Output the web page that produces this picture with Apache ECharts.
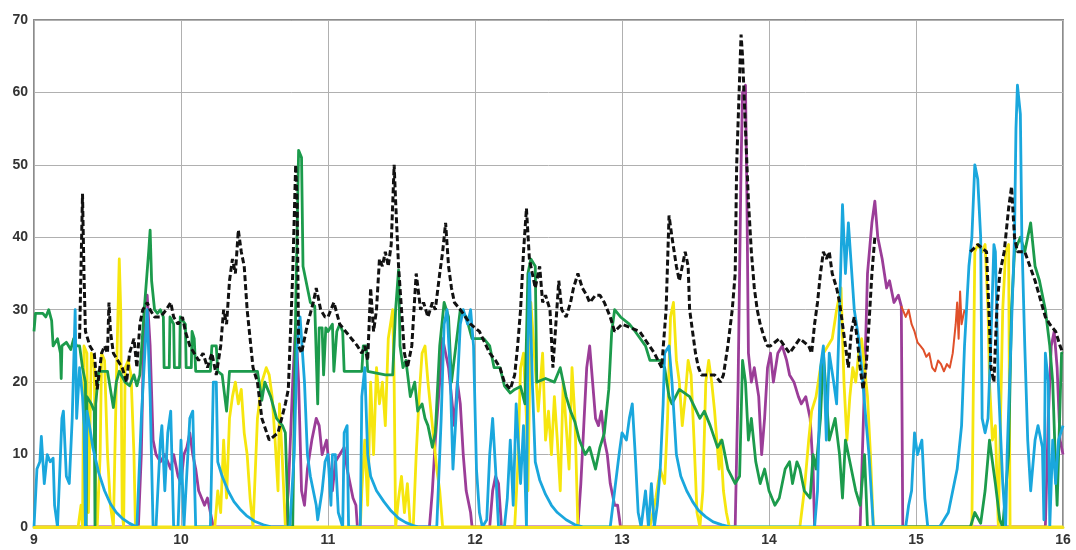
<!DOCTYPE html>
<html>
<head>
<meta charset="utf-8">
<script src="https://cdn.jsdelivr.net/npm/echarts@6/dist/echarts.min.js"></script>
<style>
  html, body { margin: 0; padding: 0; background: #fff; }
  #chart { width: 1076px; height: 550px; }
</style>
</head>
<body>
<div id="chart"></div>
<script>
// x = hour of day, y = value
const xTicks = [9, 10, 11, 12, 13, 14, 15, 16]
const yTicks = [0, 10, 20, 30, 40, 50, 60, 70]

const greenData = [
  [9.00, 27], [9.01, 29.5], [9.06, 29.5], [9.08, 29], [9.10, 30], [9.12, 28.5], [9.13, 25], [9.16, 26], [9.18, 24], [9.185, 20.5],
  [9.19, 25], [9.22, 25.5], [9.25, 24.5], [9.27, 26], [9.29, 25], [9.31, 25], [9.33, 22], [9.35, 20], [9.355, 0], [9.36, 18],
  [9.39, 17], [9.41, 16], [9.415, 0], [9.42, 17], [9.44, 21.5], [9.50, 21.5], [9.52, 19], [9.54, 16.5], [9.56, 20], [9.58, 21.5],
  [9.62, 20], [9.65, 19.5], [9.68, 21], [9.70, 19.5], [9.72, 21], [9.75, 30], [9.78, 38], [9.79, 41], [9.80, 34], [9.82, 30],
  [9.84, 29.5], [9.86, 30], [9.88, 29], [9.885, 22], [9.92, 22], [9.925, 29], [9.95, 28], [9.955, 22], [9.99, 22], [9.995, 29],
  [10.03, 28], [10.035, 22], [10.07, 22], [10.075, 27], [10.09, 26], [10.10, 21.5], [10.20, 21.5], [10.21, 25], [10.24, 25], [10.25, 21.5],
  [10.28, 21], [10.31, 16], [10.33, 21.5], [10.52, 21.5], [10.55, 17.5], [10.57, 20], [10.61, 18], [10.65, 15], [10.69, 14], [10.71, 13],
  [10.73, 0], [10.76, 0], [10.78, 30], [10.80, 52], [10.82, 51], [10.83, 36], [10.85, 34], [10.88, 31], [10.91, 30.5], [10.93, 17],
  [10.94, 27.5], [10.96, 27.5], [10.97, 21], [10.985, 27.5], [11.00, 27], [11.03, 28], [11.04, 21.5], [11.06, 27], [11.08, 28], [11.10, 27],
  [11.11, 21.5], [11.23, 21.5], [11.24, 25],
  [11.26, 25], [11.27, 21.5], [11.39, 21], [11.44, 21], [11.46, 30], [11.48, 35.5], [11.49, 25], [11.51, 22], [11.53, 23], [11.56, 18],
  [11.59, 20], [11.61, 16], [11.64, 17], [11.66, 15], [11.68, 14], [11.71, 11], [11.73, 13], [11.76, 25], [11.79, 31], [11.82, 29],
  [11.84, 20], [11.87, 25], [11.90, 30], [11.94, 29], [11.98, 26], [12.06, 26], [12.10, 25], [12.13, 22], [12.17, 22], [12.20, 19.5],
  [12.24, 18.5], [12.27, 19], [12.31, 19.4], [12.34, 17], [12.36, 35], [12.38, 37], [12.41, 36], [12.42, 20], [12.48, 20.5], [12.54, 20],
  [12.58, 22], [12.62, 18], [12.65, 16], [12.68, 14.5], [12.71, 12], [12.75, 10], [12.78, 11], [12.82, 8], [12.85, 11], [12.88, 13],
  [12.91, 19], [12.93, 27], [12.95, 30], [12.99, 29], [13.05, 28], [13.09, 27], [13.16, 25], [13.19, 23], [13.26, 23], [13.29, 22],
  [13.32, 18], [13.34, 17], [13.39, 19], [13.46, 18], [13.53, 15], [13.56, 16], [13.60, 14], [13.65, 11], [13.68, 12], [13.72, 8],
  [13.77, 6], [13.80, 7], [13.82, 23], [13.84, 20], [13.86, 12], [13.88, 15], [13.91, 9], [13.94, 6], [13.97, 8], [14.00, 5],
  [14.04, 3], [14.07, 4], [14.11, 8], [14.14, 9], [14.16, 6], [14.19, 9], [14.21, 8], [14.24, 5], [14.28, 4], [14.30, 10],
  [14.32, 8], [14.35, 15], [14.37, 24], [14.39, 18], [14.41, 12], [14.45, 15], [14.48, 10], [14.50, 4], [14.52, 12], [14.55, 9],
  [14.59, 5], [14.62, 3], [14.65, 10], [14.67, 0], [15.37, 0], [15.40, 2], [15.44, 0.5], [15.47, 5], [15.50, 12], [15.54, 6],
  [15.57, 1], [15.59, 0], [15.63, 10], [15.65, 30], [15.67, 38], [15.71, 40], [15.74, 38], [15.78, 42], [15.81, 36], [15.84, 34],
  [15.88, 30], [15.91, 25], [15.93, 20], [15.95, 8], [15.96, 3], [15.97, 10], [15.99, 24], [16.00, 24]
]

const cyanData = [
  [9.00, 0], [9.02, 8], [9.04, 9], [9.05, 12.5], [9.07, 6], [9.09, 10], [9.11, 9], [9.13, 9.5], [9.14, 3], [9.16, 0],
  [9.19, 15], [9.20, 16], [9.22, 7], [9.24, 6], [9.26, 15], [9.28, 30], [9.29, 15], [9.31, 22], [9.33, 18], [9.34, 14],
  [9.35, 0], [9.36, 16], [9.37, 15], [9.40, 11], [9.44, 7.5], [9.48, 5], [9.52, 3.2], [9.56, 2], [9.60, 1.2], [9.65, 0.5],
  [9.70, 0], [9.73, 15], [9.77, 30], [9.79, 18], [9.81, 0], [9.83, 0], [9.86, 12], [9.87, 14], [9.89, 5], [9.91, 13],
  [9.93, 16], [9.95, 0], [9.98, 0], [10.00, 12], [10.02, 0], [10.06, 15], [10.08, 16], [10.10, 0], [10.20, 0], [10.22, 20],
  [10.24, 20], [10.25, 9], [10.28, 7], [10.32, 5], [10.36, 3.5], [10.40, 2.5], [10.45, 1.5], [10.50, 0.8], [10.56, 0.3], [10.62, 0],
  [10.74, 0], [10.77, 10], [10.79, 25], [10.81, 29], [10.84, 20], [10.86, 10], [10.88, 7], [10.90, 5], [10.92, 3], [10.93, 1],
  [10.96, 5], [10.98, 9], [11.00, 10], [11.02, 3], [11.03, 10], [11.05, 10], [11.07, 2], [11.10, 0], [11.11, 13], [11.13, 14],
  [11.14, 0], [11.22, 0], [11.23, 18], [11.25, 22], [11.27, 10], [11.29, 7], [11.33, 5], [11.38, 3.5], [11.43, 2.2], [11.48, 1.2],
  [11.53, 0.6], [11.58, 0.2], [11.62, 0], [11.74, 0], [11.77, 15], [11.79, 28], [11.81, 30], [11.83, 22], [11.85, 8], [11.87, 15],
  [11.90, 28], [11.92, 30], [11.95, 28], [11.97, 30], [11.99, 25], [12.01, 8], [12.03, 2], [12.05, 0], [12.08, 1], [12.10, 10],
  [12.12, 15], [12.14, 8], [12.16, 0], [12.20, 0], [12.22, 4], [12.24, 12], [12.26, 3], [12.28, 17], [12.31, 6], [12.33, 14],
  [12.35, 0], [12.36, 25], [12.37, 35], [12.39, 20], [12.41, 9], [12.44, 6.5], [12.48, 4.5], [12.52, 3], [12.56, 2], [12.62, 1],
  [12.68, 0.3], [12.74, 0], [12.92, 0], [12.95, 5], [12.98, 10], [13.00, 13], [13.03, 12], [13.05, 15], [13.07, 17], [13.09, 10],
  [13.11, 2], [13.13, 0], [13.16, 5], [13.18, 0], [13.20, 6], [13.22, 0], [13.24, 3], [13.26, 8], [13.28, 17], [13.29, 24],
  [13.32, 25], [13.34, 20], [13.37, 10], [13.40, 7], [13.44, 5], [13.48, 3.5], [13.52, 2.3], [13.57, 1.4], [13.62, 0.7], [13.68, 0.3],
  [13.74, 0], [14.31, 0], [14.33, 5], [14.35, 22], [14.37, 25], [14.39, 12], [14.41, 24], [14.44, 20], [14.46, 17], [14.48, 30],
  [14.50, 44.5], [14.52, 35], [14.54, 42], [14.56, 36], [14.58, 30], [14.61, 26], [14.63, 22], [14.65, 17], [14.68, 10], [14.71, 0],
  [14.93, 0], [14.95, 3], [14.97, 5], [14.99, 13], [15.01, 10], [15.04, 12], [15.06, 4], [15.08, 0], [15.16, 0], [15.22, 2],
  [15.28, 8], [15.31, 14], [15.33, 25], [15.36, 36], [15.38, 40], [15.40, 50], [15.42, 48], [15.44, 40], [15.45, 15], [15.47, 13],
  [15.49, 15], [15.51, 26], [15.53, 39], [15.54, 38], [15.56, 20], [15.59, 6], [15.61, 0], [15.62, 10], [15.65, 28], [15.67, 40],
  [15.68, 55], [15.69, 61], [15.71, 57], [15.72, 40], [15.74, 25], [15.76, 12], [15.78, 5], [15.81, 12], [15.83, 14], [15.86, 11],
  [15.87, 1], [15.88, 24], [15.90, 20], [15.91, 0], [15.93, 12], [15.95, 6], [15.97, 12], [16.00, 14]
]

const yellowData = [
  [9.00, 0], [9.30, 0], [9.32, 3], [9.33, 0], [9.34, 25], [9.36, 24], [9.37, 2], [9.39, 24], [9.41, 22], [9.42, 5],
  [9.43, 0], [9.45, 10], [9.46, 24], [9.48, 23], [9.50, 10], [9.52, 3], [9.54, 0], [9.56, 20], [9.58, 37], [9.59, 30],
  [9.60, 2], [9.61, 0], [9.62, 22], [9.64, 23], [9.66, 21], [9.68, 10], [9.69, 0], [10.23, 0], [10.25, 5], [10.27, 2],
  [10.29, 12], [10.31, 4], [10.33, 15], [10.35, 18], [10.37, 20], [10.39, 17], [10.41, 19], [10.43, 13], [10.45, 10], [10.47, 4],
  [10.49, 0], [10.52, 15], [10.55, 20], [10.58, 22], [10.60, 21], [10.62, 18], [10.64, 12], [10.66, 5], [10.67, 17], [10.69, 9],
  [10.71, 0], [11.22, 0], [11.23, 5], [11.25, 12], [11.27, 3], [11.29, 20], [11.31, 10], [11.33, 22], [11.35, 17], [11.37, 20],
  [11.39, 14], [11.41, 26], [11.44, 30], [11.45, 20], [11.46, 0], [11.48, 4], [11.50, 7], [11.52, 2], [11.54, 6], [11.56, 0],
  [11.58, 0], [11.60, 10], [11.62, 18], [11.64, 24], [11.66, 25], [11.68, 20], [11.70, 16], [11.72, 12], [11.74, 8], [11.76, 5],
  [11.78, 0], [12.27, 0], [12.29, 8], [12.31, 22], [12.33, 24], [12.35, 15], [12.36, 5], [12.38, 31], [12.41, 22], [12.43, 16],
  [12.46, 24], [12.48, 12], [12.50, 16], [12.52, 10], [12.54, 18], [12.56, 12], [12.58, 5], [12.60, 20], [12.62, 14], [12.64, 8],
  [12.66, 22], [12.68, 15], [12.70, 0], [13.19, 0], [13.23, 4], [13.26, 8], [13.29, 6], [13.31, 15], [13.33, 29], [13.35, 31],
  [13.37, 23], [13.39, 20], [13.41, 14], [13.43, 18], [13.45, 23], [13.47, 21], [13.49, 12], [13.51, 2], [13.53, 0], [13.55, 5],
  [13.57, 20], [13.59, 23], [13.61, 20], [13.63, 16], [13.66, 8], [13.67, 12], [13.69, 5], [13.71, 2], [13.73, 0], [14.21, 0],
  [14.24, 5], [14.27, 12], [14.29, 16], [14.32, 18], [14.35, 22], [14.37, 24], [14.40, 25], [14.43, 26], [14.46, 30], [14.49, 33],
  [14.51, 20], [14.53, 12], [14.55, 18], [14.57, 22], [14.59, 20], [14.61, 24], [14.63, 26], [14.65, 22], [14.67, 18], [14.69, 10],
  [14.71, 0], [15.38, 0], [15.40, 38], [15.42, 39], [15.45, 38], [15.47, 39], [15.49, 30], [15.50, 20], [15.52, 12], [15.54, 14],
  [15.56, 0], [15.59, 30], [15.61, 38], [15.63, 39], [15.64, 0], [16.00, 0]
]

const magentaData = [
  [9.00, 0], [9.71, 0], [9.73, 10], [9.75, 30], [9.77, 32], [9.79, 25], [9.81, 12], [9.83, 10], [9.86, 9], [9.89, 10],
  [9.93, 8], [9.95, 10], [9.98, 7], [10.00, 6], [10.02, 10], [10.04, 11], [10.06, 13], [10.08, 10], [10.10, 8], [10.12, 5],
  [10.14, 4], [10.16, 3], [10.18, 4], [10.20, 2], [10.22, 0], [10.71, 0], [10.73, 5], [10.76, 20], [10.78, 28], [10.80, 20],
  [10.82, 5], [10.84, 3], [10.86, 8], [10.89, 12], [10.92, 15], [10.94, 14], [10.96, 10], [10.99, 12], [11.01, 8], [11.03, 5],
  [11.05, 9], [11.08, 10], [11.11, 11], [11.13, 8], [11.15, 6], [11.17, 4], [11.19, 3], [11.20, 0], [11.69, 0], [11.71, 5],
  [11.73, 12], [11.76, 20], [11.78, 26], [11.80, 24], [11.82, 22], [11.84, 18], [11.86, 14], [11.88, 20], [11.90, 17], [11.92, 10],
  [11.94, 5], [11.97, 2], [11.98, 0], [12.10, 0], [12.12, 5], [12.14, 7], [12.16, 6], [12.18, 0], [12.70, 0], [12.72, 6],
  [12.74, 14], [12.76, 22], [12.78, 25], [12.80, 20], [12.82, 15], [12.84, 14], [12.86, 16], [12.88, 12], [12.90, 10], [12.92, 6],
  [12.95, 3], [12.97, 3], [12.99, 0], [13.77, 0], [13.79, 20], [13.81, 50], [13.82, 60], [13.84, 61], [13.85, 45], [13.86, 24],
  [13.88, 20], [13.90, 22], [13.93, 18], [13.95, 10], [13.97, 15], [13.99, 22], [14.01, 24], [14.03, 20], [14.06, 24], [14.09, 25],
  [14.12, 23], [14.14, 21], [14.17, 20], [14.20, 18], [14.22, 17], [14.25, 18], [14.28, 15], [14.30, 8], [14.31, 0], [14.62, 0],
  [14.65, 20], [14.67, 35], [14.70, 42], [14.72, 45], [14.74, 40], [14.77, 37], [14.80, 33], [14.82, 34], [14.85, 31], [14.88, 32],
  [14.90, 30.5], [14.91, 0], [15.88, 0], [15.90, 15], [15.92, 25], [15.94, 27], [15.96, 22], [15.98, 12], [16.00, 10]
]

const redData = [
  [14.90, 30.5], [14.93, 29], [14.95, 30], [14.97, 28], [14.99, 27], [15.01, 25.5], [15.03, 25], [15.05, 24.5], [15.07, 23.5], [15.09, 24],
  [15.11, 22], [15.13, 21.5], [15.15, 23], [15.17, 22.5], [15.19, 21.5], [15.21, 22.5], [15.23, 22], [15.25, 24], [15.27, 28], [15.28, 31],
  [15.29, 26], [15.30, 32.5], [15.31, 28], [15.33, 30]
]

const blackData = [
  [9.31, 26], [9.33, 46], [9.34, 35], [9.35, 27], [9.38, 25], [9.41, 24], [9.43, 19], [9.46, 24], [9.48, 25], [9.50, 24],
  [9.51, 31], [9.52, 27], [9.54, 24], [9.57, 23], [9.60, 22], [9.63, 20], [9.65, 24], [9.68, 26], [9.70, 22], [9.72, 28],
  [9.74, 30], [9.77, 31], [9.79, 30], [9.82, 29], [9.86, 29], [9.90, 30], [9.93, 31], [9.95, 29], [9.98, 28], [10.01, 29],
  [10.03, 27], [10.06, 25], [10.09, 24], [10.12, 23], [10.15, 24], [10.18, 22], [10.21, 24], [10.24, 21], [10.27, 25], [10.29, 30],
  [10.31, 28], [10.33, 34], [10.35, 37], [10.37, 35], [10.39, 41], [10.41, 38], [10.43, 36], [10.45, 30], [10.47, 26], [10.49, 22],
  [10.52, 20], [10.55, 15], [10.60, 12], [10.66, 13], [10.71, 17], [10.73, 19], [10.76, 35], [10.78, 50], [10.79, 45], [10.80, 25],
  [10.82, 24], [10.86, 28], [10.90, 31], [10.92, 33], [10.95, 30], [10.98, 29], [11.00, 29], [11.04, 31], [11.08, 28],
  [11.12, 27], [11.16, 26], [11.20, 25], [11.23, 24], [11.25, 25], [11.27, 23], [11.29, 33], [11.31, 27], [11.33, 30], [11.35, 37],
  [11.37, 36], [11.39, 38], [11.41, 36], [11.43, 39], [11.45, 50], [11.46, 45], [11.48, 36], [11.50, 30], [11.52, 24], [11.54, 22],
  [11.57, 25], [11.60, 35], [11.63, 30], [11.65, 31], [11.68, 29], [11.71, 31], [11.73, 30], [11.76, 35], [11.78, 38], [11.80, 42],
  [11.82, 36], [11.84, 33], [11.86, 31], [11.90, 30], [11.97, 28], [12.03, 27], [12.10, 24], [12.14, 23], [12.17, 22], [12.20, 20],
  [12.24, 19], [12.27, 21], [12.29, 25], [12.31, 30], [12.32, 34], [12.33, 38], [12.35, 44], [12.37, 37], [12.39, 35], [12.41, 33],
  [12.44, 36], [12.46, 31], [12.48, 32], [12.51, 30], [12.53, 22], [12.55, 28], [12.57, 34], [12.59, 30], [12.62, 29], [12.65, 31],
  [12.67, 33], [12.70, 35], [12.73, 33], [12.76, 32], [12.78, 31], [12.82, 32], [12.85, 32], [12.88, 31], [12.92, 29], [12.95, 27],
  [13.00, 28], [13.12, 27], [13.22, 24], [13.27, 22], [13.30, 30], [13.32, 43], [13.34, 40], [13.37, 36], [13.39, 34], [13.41, 36],
  [13.43, 38], [13.45, 36], [13.46, 30], [13.48, 27], [13.50, 24], [13.52, 22], [13.54, 21], [13.59, 21], [13.63, 21], [13.67, 20],
  [13.69, 21], [13.72, 25], [13.75, 30], [13.77, 35], [13.78, 50], [13.80, 62], [13.81, 68], [13.82, 65], [13.84, 55], [13.86, 45],
  [13.88, 38], [13.90, 33], [13.92, 30], [13.94, 28], [13.97, 26], [13.99, 25], [14.01, 25], [14.07, 26], [14.14, 24], [14.21, 26],
  [14.27, 25], [14.29, 24], [14.31, 28], [14.33, 31], [14.35, 35], [14.37, 38], [14.39, 37], [14.41, 38], [14.43, 35], [14.46, 33],
  [14.48, 31], [14.50, 28], [14.52, 25], [14.54, 22], [14.56, 27], [14.58, 29], [14.60, 26], [14.62, 22], [14.64, 19], [14.66, 22],
  [14.68, 28], [14.70, 35], [14.72, 40], [14.73, null],
  [15.37, 38], [15.42, 39], [15.48, 38], [15.50, 28], [15.51, 22], [15.53, 20], [15.55, 30], [15.57, 35], [15.60, 38], [15.63, 44],
  [15.65, 47], [15.67, 40], [15.69, 38], [15.74, 38], [15.81, 34], [15.88, 29], [15.91, 28], [15.95, 27], [15.98, 25], [16.00, 24]
]

const chart = echarts.init(document.getElementById('chart'))

function lineSeries (name, data, color, width, z) {
  return {
    name: name,
    type: 'line',
    data: data,
    showSymbol: false,
    z: z,
    lineStyle: { color: color, width: width, join: 'round' },
    itemStyle: { color: color },
    animation: false
  }
}

const option = {
  backgroundColor: '#fff',
  grid: {
    left: 34,
    right: 13,
    top: 20,
    bottom: 23,
    show: true,
    borderColor: '#8c8c8c',
    borderWidth: 2
  },
  xAxis: [{
    type: 'value',
    min: xTicks[0],
    max: xTicks[xTicks.length - 1],
    interval: 1,
    axisLine: { show: false },
    axisTick: { show: false },
    axisLabel: {
      color: '#333',
      fontFamily: 'Liberation Sans, Arial, sans-serif',
      fontWeight: 'bold',
      fontSize: 14,
      margin: 6
    },
    splitLine: { show: true, lineStyle: { color: '#b0b0b0', width: 1 } }
  }, {
    // yellow baseline along zero, drawn above the lines
    type: 'value',
    position: 'bottom',
    min: xTicks[0],
    max: xTicks[xTicks.length - 1],
    z: 10,
    axisLine: { show: true, lineStyle: { color: '#f4e31c', width: 3 } },
    axisTick: { show: false },
    axisLabel: { show: false },
    splitLine: { show: false }
  }],
  yAxis: {
    type: 'value',
    min: yTicks[0],
    max: yTicks[yTicks.length - 1],
    interval: 10,
    axisLine: { show: false },
    axisTick: { show: false },
    axisLabel: {
      color: '#333',
      fontFamily: 'Liberation Sans, Arial, sans-serif',
      fontWeight: 'bold',
      fontSize: 14,
      margin: 6
    },
    splitLine: { show: true, lineStyle: { color: '#b0b0b0', width: 1 } }
  },
  series: [
    lineSeries('magenta', magentaData, '#9b3d98', 2.8, 2),
    lineSeries('red', redData, '#e0502a', 2, 2),
    lineSeries('yellow', yellowData, '#f6e60e', 2.8, 3),
    lineSeries('green', greenData, '#1c9b4c', 2.8, 4),
    lineSeries('cyan', cyanData, '#1aa7dd', 2.8, 5),
    Object.assign(lineSeries('black', blackData, '#111', 3, 6), {
      connectNulls: false,
      lineStyle: { color: '#111', width: 3, type: [6, 3] }
    })
  ]
}

chart.setOption(option)
</script>
</body>
</html>
